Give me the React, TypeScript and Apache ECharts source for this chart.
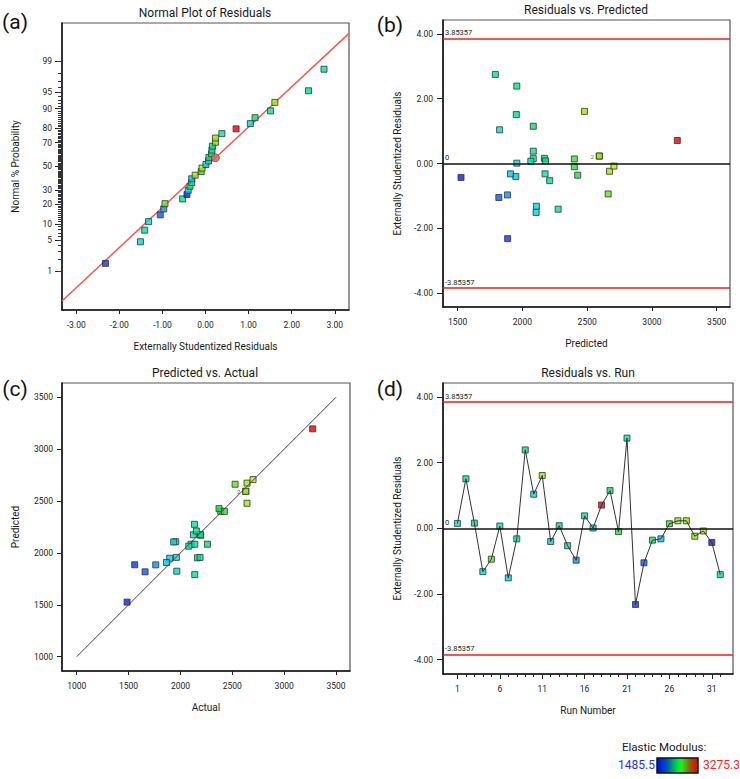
import React, { useEffect, useRef } from "react";
import * as echarts from "echarts";

// ---- Design data (32 runs) ----
const RUNS = [1, 2, 3, 4, 5, 6, 7, 8, 9, 10, 11, 12, 13, 14, 15, 16, 17, 18, 19, 20, 21, 22, 23, 24, 25, 26, 27, 28, 29, 30, 31, 32];
const RESIDUALS = [0.15, 1.51, 0.16, -1.32, -0.94, 0.07, -1.51, -0.32, 2.39, 1.04, 1.61, -0.4, 0.08, -0.53, -0.97, 0.38, 0.01, 0.71, 1.15, -0.1, 2.75, -2.32, -1.05, -0.36, -0.32, 0.14, 0.23, 0.23, -0.24, -0.08, -0.43, -1.41];
const PREDICTED = [2084, 1953, 2170, 2108, 2662, 2065, 2106, 2175, 1957, 1824, 2479, 1949, 2178, 2211, 1885, 2084, 1957, 3196, 2084, 2401, 1791, 1886, 1818, 2427, 1908, 2401, 2594, 2594, 2673, 2707, 1526, 2276];
const ACTUAL = [2103, 2164, 2196, 1955, 2527, 2080, 1935, 2125, 2189, 1965, 2642, 1897, 2192, 2154, 1762, 2138, 1961, 3275.3, 2260, 2388, 2138, 1559, 1659, 2372, 1865, 2424, 2630, 2630, 2642, 2700, 1485.5, 2135];

// normal-plot positions (%) of the ordered residuals
const NORMAL_PROB = [1.56, 4.69, 7.81, 10.94, 14.06, 17.19, 20.31, 23.44, 26.56, 29.69, 32.81, 35.94, 39.06, 42.19, 45.31, 48.44, 51.56, 54.69, 57.81, 60.94, 64.06, 67.19, 70.31, 73.44, 76.56, 79.69, 82.81, 85.94, 89.06, 92.19, 95.31, 98.44];
const SELECTED_POINT = [0.23, 57.5]; // [residual, %]
const FIT_LINE_Z = [[-3.33, -2.99], [3.33, 2.95]]; // normal line in probit units

const PROB_TICKS = [1, 5, 10, 20, 30, 50, 70, 80, 90, 95, 99];
const STUD_TICKS = [-3, -2, -1, 0, 1, 2, 3];
const RESID_TICKS = [-4, -2, 0, 2, 4];
const PRED_TICKS = [1500, 2000, 2500, 3000, 3500];
const MODULUS_TICKS = [1000, 1500, 2000, 2500, 3000, 3500];
const RUN_TICKS = [1, 6, 11, 16, 21, 26, 31];
const LIMIT = 3.85357;
const DIAGONAL = [[1000, 1000], [3500, 3500]];
const MODULUS_RANGE = [1485.5, 3275.3];
const REPEAT_LABEL = "2";
const REPEAT_RUN = 27;

const FONT = "Roboto, 'Noto Sans', sans-serif";

// inverse standard normal CDF (Acklam)
function probit(p: number): number {
  const a = [-39.69683028665376, 220.9460984245205, -275.9285104469687, 138.357751867269, -30.66479806614716, 2.506628277459239];
  const b = [-54.47609879822406, 161.5858368580409, -155.6989798598866, 66.80131188771972, -13.28068155288572];
  const c = [-0.007784894002430293, -0.3223964580411365, -2.400758277161838, -2.549732539343734, 4.374664141464968, 2.938163982698783];
  const d = [0.007784695709041462, 0.3224671290700398, 2.445134137142996, 3.754408661907416];
  const pl = 0.02425;
  if (p < pl) {
    const q = Math.sqrt(-2 * Math.log(p));
    return (((((c[0] * q + c[1]) * q + c[2]) * q + c[3]) * q + c[4]) * q + c[5]) / ((((d[0] * q + d[1]) * q + d[2]) * q + d[3]) * q + 1);
  }
  if (p <= 1 - pl) {
    const q = p - 0.5;
    const r = q * q;
    return ((((((a[0] * r + a[1]) * r + a[2]) * r + a[3]) * r + a[4]) * r + a[5]) * q) / (((((b[0] * r + b[1]) * r + b[2]) * r + b[3]) * r + b[4]) * r + 1);
  }
  const q = Math.sqrt(-2 * Math.log(1 - p));
  return -(((((c[0] * q + c[1]) * q + c[2]) * q + c[3]) * q + c[4]) * q + c[5]) / ((((d[0] * q + d[1]) * q + d[2]) * q + d[3]) * q + 1);
}

const PROB_TICK_Z = PROB_TICKS.map((p) => probit(p / 100));
const PROB_MINOR_Z: number[] = [];
for (let p = 1; p <= 99; p++) PROB_MINOR_Z.push(probit(p / 100));
const RUN_MINOR: number[] = [];
for (let r = 1; r <= 32; r++) RUN_MINOR.push(r);

function probLabel(z: number): string {
  let best = 0;
  PROB_TICK_Z.forEach((t, i) => {
    if (Math.abs(t - z) < Math.abs(PROB_TICK_Z[best] - z)) best = i;
  });
  return String(PROB_TICKS[best]);
}

const labelStyle = { fontSize: 8.5, color: "#1a1a1a", fontFamily: FONT };
const nameStyle = { fontSize: 10, color: "#1a1a1a", fontFamily: FONT };

// margin is measured from the axis line, so it includes the tick length
function axis(opts: any) {
  const {
    gridIndex, min, max, ticks, fmt, name, nameGap, tickLen = 5, showLine = true,
    showLabel = true, position, margin = 10, tickColor = "#222",
  } = opts;
  return {
    type: "value",
    gridIndex,
    min,
    max,
    position,
    offset: 0,
    name,
    nameLocation: "middle",
    nameGap,
    nameTextStyle: nameStyle,
    splitLine: { show: false },
    axisLine: { show: showLine, onZero: false, lineStyle: { color: "#111", width: 1.5 } },
    axisTick: { show: true, inside: false, length: tickLen, customValues: ticks, lineStyle: { color: tickColor, width: 1 } },
    axisLabel: { show: showLabel, inside: false, customValues: ticks, formatter: fmt, margin, ...labelStyle },
  };
}

const grids = [
  { left: 62, top: 23, width: 287, height: 287 },
  { left: 443, top: 20, width: 287, height: 287 },
  { left: 62, top: 383, width: 288, height: 288 },
  { left: 443, top: 383, width: 290, height: 291 },
].map((g) => ({ ...g, show: true, borderColor: "#555", borderWidth: 1.2, backgroundColor: "#fff" }));

const fixed2 = (v: number) => v.toFixed(2);
const plain = (v: number) => String(v);

const xAxes = [
  axis({ gridIndex: 0, position: "bottom", min: -3.33, max: 3.33, ticks: STUD_TICKS, fmt: fixed2, name: "Externally Studentized Residuals", nameGap: 31, tickLen: 4, margin: 10 }),
  axis({ gridIndex: 1, position: "bottom", min: 1387, max: 3603, ticks: PRED_TICKS, fmt: plain, name: "Predicted", nameGap: 31, tickLen: 4, margin: 10 }),
  axis({ gridIndex: 2, position: "bottom", min: 858, max: 3635, ticks: MODULUS_TICKS, fmt: plain, name: "Actual", nameGap: 31, tickLen: 4, margin: 10 }),
  axis({ gridIndex: 3, position: "bottom", min: -0.7, max: 33.5, ticks: RUN_TICKS, fmt: plain, name: "Run Number", nameGap: 31, tickLen: 5, margin: 10 }),
  axis({ gridIndex: 3, position: "bottom", min: -0.7, max: 33.5, ticks: RUN_MINOR, tickLen: 3, showLine: false, showLabel: false, tickColor: "#222" }),
];

const yAxes = [
  axis({ gridIndex: 0, position: "left", min: -3.19, max: 3.18, ticks: PROB_TICK_Z, fmt: probLabel, name: "Normal % Probability", nameGap: 42, tickLen: 7, margin: 10 }),
  axis({ gridIndex: 0, position: "left", min: -3.19, max: 3.18, ticks: PROB_MINOR_Z, tickLen: 4, showLine: false, showLabel: false, tickColor: "#333" }),
  axis({ gridIndex: 1, position: "left", min: -4.43, max: 4.43, ticks: RESID_TICKS, fmt: fixed2, name: "Externally Studentized Residuals", nameGap: 41, tickLen: 6, margin: 10 }),
  axis({ gridIndex: 2, position: "left", min: 862, max: 3638, ticks: MODULUS_TICKS, fmt: plain, name: "Predicted", nameGap: 42, tickLen: 5, margin: 9 }),
  axis({ gridIndex: 3, position: "left", min: -4.44, max: 4.43, ticks: RESID_TICKS, fmt: fixed2, name: "Externally Studentized Residuals", nameGap: 41, tickLen: 6, margin: 10 }),
];

const squareStyle = { borderColor: "#333", borderWidth: 1 };

// residuals in ascending order, paired with their actual modulus for colouring
const ordered = RESIDUALS.map((r, i) => ({ r, a: ACTUAL[i] })).sort((u, v) => u.r - v.r);
const normalData = ordered.map((o, i) => [o.r, probit(NORMAL_PROB[i] / 100), o.a]);

const repeatLabel = { show: true, formatter: REPEAT_LABEL, position: "left", distance: 2, fontSize: 6, color: "#333", fontFamily: FONT };

const predData = RUNS.map((run, i) => {
  const value = [PREDICTED[i], RESIDUALS[i], ACTUAL[i]];
  return run === REPEAT_RUN ? { value, label: repeatLabel } : { value };
});
const actualData = RUNS.map((run, i) => {
  const value = [ACTUAL[i], PREDICTED[i], ACTUAL[i]];
  return run === REPEAT_RUN ? { value, label: repeatLabel } : { value };
});
const runData = RUNS.map((run, i) => [run, RESIDUALS[i], ACTUAL[i]]);

const limitLines = (withZero: boolean) => ({
  silent: true,
  symbol: ["none", "none"],
  animation: false,
  label: { position: "insideStartTop", fontSize: 7.5, color: "#222", fontFamily: FONT, distance: 2 },
  data: [
    { yAxis: LIMIT, label: { formatter: "3.85357" }, lineStyle: { color: "#e8201c", width: 1.5, type: "solid" } },
    { yAxis: -LIMIT, label: { formatter: "-3.85357" }, lineStyle: { color: "#e8201c", width: 1.5, type: "solid" } },
    ...(withZero ? [{ yAxis: 0, label: { formatter: "0" }, lineStyle: { color: "#111", width: 1.5, type: "solid" } }] : []),
  ],
});

const series: any[] = [
  {
    type: "scatter", xAxisIndex: 0, yAxisIndex: 0, data: normalData, symbol: "rect", symbolSize: 6,
    itemStyle: squareStyle, z: 4,
  },
  {
    type: "scatter", xAxisIndex: 0, yAxisIndex: 0, data: [[SELECTED_POINT[0], probit(SELECTED_POINT[1] / 100)]],
    symbol: "circle", symbolSize: 8, itemStyle: { color: "#c7655f", borderColor: "#555", borderWidth: 1 }, z: 5,
  },
  {
    type: "line", xAxisIndex: 0, yAxisIndex: 0, data: FIT_LINE_Z, symbol: "none",
    lineStyle: { color: "#ef5a52", width: 1.5 }, z: 2,
  },
  {
    type: "scatter", xAxisIndex: 1, yAxisIndex: 2, data: predData, symbol: "rect", symbolSize: 6,
    itemStyle: squareStyle, z: 4, markLine: limitLines(true),
  },
  {
    type: "scatter", xAxisIndex: 2, yAxisIndex: 3, data: actualData, symbol: "rect", symbolSize: 6,
    itemStyle: squareStyle, z: 3,
  },
  {
    type: "line", xAxisIndex: 2, yAxisIndex: 3, data: DIAGONAL, symbol: "none",
    lineStyle: { color: "#444", width: 1 }, z: 4,
  },
  {
    type: "scatter", xAxisIndex: 3, yAxisIndex: 4, data: runData, symbol: "rect", symbolSize: 6,
    itemStyle: squareStyle, z: 3,
  },
  {
    type: "line", xAxisIndex: 3, yAxisIndex: 4, data: runData.map((d) => [d[0], d[1]]), symbol: "none",
    lineStyle: { color: "#333", width: 1 }, z: 4, markLine: limitLines(true),
  },
];

const txt = (text: string, x: number, y: number, size: number, extra: any = {}) => ({
  type: "text",
  x,
  y,
  silent: true,
  style: { text, fontSize: size, fontFamily: FONT, fill: "#1a1a1a", align: "center", verticalAlign: "middle", ...extra },
});

const graphic = [
  txt("(a)", 15, 22, 21, { fill: "#111" }),
  txt("(b)", 390, 25, 21, { fill: "#111" }),
  txt("(c)", 15, 389, 21, { fill: "#111" }),
  txt("(d)", 390, 389, 21, { fill: "#111" }),
  txt("Normal Plot of Residuals", 205, 13, 12),
  txt("Residuals vs. Predicted", 586, 10, 12),
  txt("Predicted vs. Actual", 205, 373, 12),
  txt("Residuals vs. Run", 588, 373, 12),
  txt("Elastic Modulus:", 622, 747, 11.5, { align: "left" }),
  txt(String(MODULUS_RANGE[0]), 655, 765, 12, { align: "right", fill: "#2430f0" }),
  txt(String(MODULUS_RANGE[1]), 703, 765, 12, { align: "left", fill: "#f02828" }),
  {
    type: "rect",
    shape: { x: 657, y: 758, width: 41, height: 15 },
    silent: true,
    style: {
      stroke: "#111",
      lineWidth: 1.5,
      fill: new echarts.graphic.LinearGradient(0, 0, 1, 0, [
        { offset: 0, color: "#0008f0" },
        { offset: 0.25, color: "#0058b0" },
        { offset: 0.5, color: "#00e040" },
        { offset: 0.6, color: "#20f020" },
        { offset: 0.8, color: "#906010" },
        { offset: 1, color: "#e80000" },
      ]),
    },
  },
];

const option = {
  animation: false,
  backgroundColor: "#fff",
  grid: grids,
  xAxis: xAxes,
  yAxis: yAxes,
  visualMap: {
    type: "continuous",
    show: false,
    min: MODULUS_RANGE[0],
    max: MODULUS_RANGE[1],
    dimension: 2,
    seriesIndex: [0, 3, 4, 6],
    inRange: {
      color: ["#0a1ee6", "#0a5af5", "#00c0f8", "#00e8c8", "#00e080", "#20e040", "#6ee614", "#c4f000", "#f0b400", "#f05a00", "#e80000"],
    },
  },
  series,
  graphic,
};

export default function App() {
  const ref = useRef<HTMLDivElement>(null);
  useEffect(() => {
    if (!ref.current) return;
    const chart = echarts.init(ref.current, null, { renderer: "svg" });
    chart.setOption(option as any);
    return () => chart.dispose();
  }, []);
  return <div ref={ref} style={{ position: "fixed", left: 0, top: 0, width: 740, height: 779, background: "#fff" }} />;
}
